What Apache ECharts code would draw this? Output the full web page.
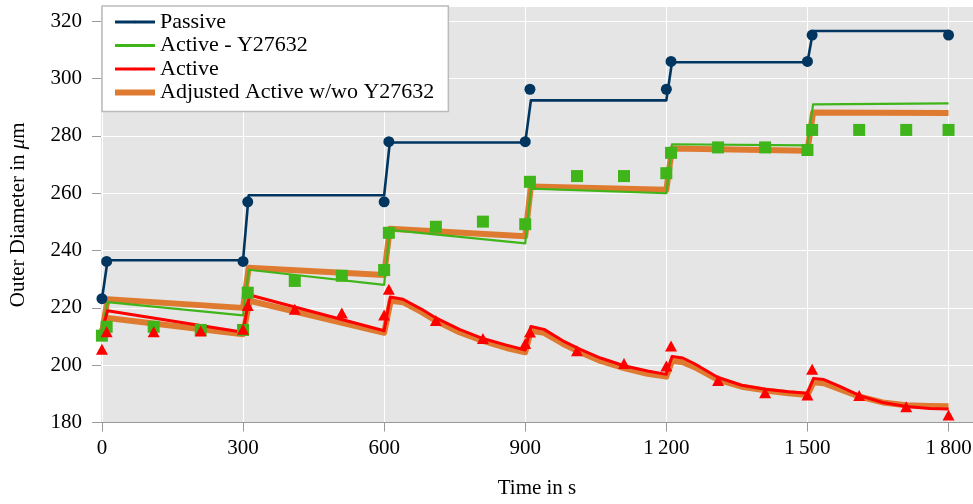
<!DOCTYPE html>
<html>
<head>
<meta charset="utf-8">
<script src="https://cdn.jsdelivr.net/npm/echarts@6/dist/echarts.min.js"></script>
<style>html,body{margin:0;padding:0;background:#fff}#main{width:973px;height:504px}</style>
</head>
<body>
<div id="main"></div>
<script>
// axis ticks
var xTicks = [0, 300, 600, 900, 1200, 1500, 1800];
var yTicks = [180, 200, 220, 240, 260, 280, 300, 320];

// Passive: model line + measured points
var passiveLineT = [0, 12, 300, 312, 600, 612, 900, 912, 1200, 1212, 1500, 1512, 1800];
var passiveLineV = [223, 236.6, 236.6, 259.3, 259.3, 277.7, 277.7, 292.4, 292.4, 305.7, 305.7, 316.6, 316.6];
var passiveT = [0, 10, 300, 310, 600, 610, 900, 910, 1200, 1210, 1500, 1510, 1800];
var passiveV = [223.2, 236.2, 236.2, 257, 257, 278, 278, 296.3, 296.3, 306, 306, 315.2, 315.2];

// Active - Y27632: model line + measured points
var greenLineT = [0, 12, 300, 312, 600, 612, 900, 912, 1200, 1212, 1500, 1512, 1800];
var greenLineV = [212, 222, 217.4, 233.3, 228, 247.2, 242.5, 261.6, 260, 277.1, 276.7, 291, 291.4];
var greenT = [0, 10, 110, 210, 300, 310, 410, 510, 600, 610, 710, 810, 900, 910, 1010, 1110, 1200, 1210, 1310, 1410, 1500, 1510, 1610, 1710, 1800];
var greenV = [210.3, 213.4, 213.4, 212.3, 212.3, 225.3, 229.4, 231.2, 233.2, 246.2, 248.3, 250.1, 249.2, 264, 266, 266, 267, 274.1, 276, 276, 275.1, 282.1, 282.1, 282.1, 282.1];

// Active: model line + measured points
var redLineT = [0, 12, 300, 314, 600, 613, 640, 680, 710, 760, 810, 860, 900, 912, 940, 980, 1017, 1060, 1110, 1160, 1200, 1212, 1235, 1260, 1309, 1360, 1410, 1460, 1500, 1513, 1535, 1570, 1611, 1660, 1710, 1760, 1800];
var redLineV = [212, 219, 211.5, 224.5, 212, 223.8, 223, 219.5, 216.5, 212.5, 209.3, 207, 205.3, 213.5, 212.5, 208.5, 205.5, 202.5, 199.8, 198, 196.8, 203, 202.5, 200.5, 195.8, 193, 191.6, 190.7, 190.2, 195.4, 195, 192.5, 189.4, 187, 185.6, 184.9, 184.7];
var redT = [0, 10, 110, 210, 300, 310, 410, 510, 600, 610, 710, 810, 900, 910, 1010, 1110, 1200, 1210, 1310, 1410, 1500, 1510, 1610, 1710, 1800];
var redV = [205.6, 211.7, 211.7, 211.9, 212.5, 220.8, 219.5, 218.2, 217.5, 226.5, 215.6, 209.3, 207.6, 211.6, 205, 200.6, 199.7, 206.7, 194.7, 190.4, 189.6, 198.6, 189.4, 185.5, 182.6];

// Adjusted Active w/wo Y27632 (two curves)
var orangeUpT = [0, 12, 300, 312, 600, 612, 900, 912, 1200, 1212, 1500, 1512, 1800];
var orangeUpV = [211, 223, 220, 234, 231.5, 247.6, 245, 262.4, 261.2, 275.6, 274.8, 288.2, 288];
var orangeLowT = [0, 12, 300, 314, 600, 614, 640, 680, 710, 760, 810, 860, 900, 912, 940, 980, 1017, 1060, 1110, 1160, 1200, 1212, 1235, 1260, 1309, 1360, 1410, 1460, 1500, 1513, 1535, 1570, 1611, 1660, 1710, 1760, 1800];
var orangeLowV = [212, 216.5, 210.8, 222.5, 211.3, 222.5, 222, 218.5, 215.5, 211.5, 208.5, 206, 204.5, 212, 211.3, 207.5, 204.5, 201.5, 199, 197, 196, 201.5, 201, 199.3, 195, 192.5, 191.2, 190.2, 189.6, 194, 193.7, 191.5, 189, 187, 186, 185.8, 185.7];

var serif = 'Liberation Serif';
var cBlue = '#003560';
var cGreen = '#3fb51a';
var cRed = '#ff0000';
var cOrange = '#df7b31';

var pair = function (xs, ys) {
    return xs.map(function (x, i) { return [x, ys[i]]; });
};
var thousands = function (v) {
    return v >= 1000 ? Math.floor(v / 1000) + '\u2009' + String(v % 1000).padStart(3, '0') : String(v);
};

var chart = echarts.init(document.getElementById('main'));

var lineSeries = function (name, data, color, width) {
    return {
        type: 'line', name: name, data: data,
        symbol: 'none', showSymbol: false, silent: true,
        lineStyle: { color: color, width: width, join: 'round' },
        itemStyle: { color: color },
        z: 2
    };
};
var dotSeries = function (name, data, color, symbol, size) {
    return {
        type: 'scatter', name: name, data: data,
        symbol: symbol, symbolSize: size, silent: true,
        itemStyle: { color: color, opacity: 1 },
        z: 5
    };
};

var option = {
    animation: false,
    grid: { left: 101, right: 0, top: 7, bottom: 81.5, show: true, backgroundColor: '#e5e5e5', borderWidth: 0, outerBoundsMode: 'none' },
    xAxis: {
        type: 'value', min: -2, max: 1852,
        axisLine: { show: true, onZero: false, lineStyle: { color: '#999', width: 1 } },
        axisTick: { show: true, customValues: xTicks, length: 9, lineStyle: { color: '#999' } },
        axisLabel: { customValues: xTicks, formatter: thousands, margin: 15, fontFamily: serif, fontSize: 21, color: '#000' },
        splitLine: { show: true, lineStyle: { color: '#fff', width: 1 } },
        name: 'Time in s', nameLocation: 'middle', nameGap: 55,
        nameTextStyle: { fontFamily: serif, fontSize: 21, color: '#000' }
    },
    yAxis: {
        type: 'value', min: 180, max: 325,
        axisLine: { show: false, onZero: false },
        axisTick: { show: true, customValues: yTicks, length: 9, lineStyle: { color: '#999' } },
        axisLabel: { customValues: yTicks, margin: 19, fontFamily: serif, fontSize: 21, color: '#000' },
        splitLine: { show: true, lineStyle: { color: '#fff', width: 1 } },
        name: 'Outer Diameter in {i|μ}m', nameLocation: 'middle', nameGap: 72,
        nameTextStyle: { fontFamily: serif, fontSize: 21, color: '#000', rich: { i: { fontFamily: serif, fontSize: 21, fontStyle: 'italic', color: '#000' } } }
    },
    legend: {
        orient: 'vertical', left: 102, top: 6,
        backgroundColor: '#fff', borderColor: '#bbb', borderWidth: 1.5,
        padding: [5, 14, 8, 10],
        itemWidth: 40, itemHeight: 3, itemGap: 1.5,
        textStyle: { fontFamily: serif, fontSize: 22, color: '#000', lineHeight: 21.5 },
        data: [
            { name: 'Passive', lineStyle: { width: 3 } },
            { name: 'Active - Y27632', lineStyle: { width: 3 } },
            { name: 'Active', lineStyle: { width: 3 } },
            { name: 'Adjusted Active w/wo Y27632', lineStyle: { width: 6 } }
        ]
    },
    series: [
        lineSeries('Adjusted Active w/wo Y27632', pair(orangeUpT, orangeUpV), cOrange, 6),
        lineSeries('Adjusted Active w/wo Y27632', pair(orangeLowT, orangeLowV), cOrange, 6),
        lineSeries('Active - Y27632', pair(greenLineT, greenLineV), cGreen, 2.2),
        lineSeries('Active', pair(redLineT, redLineV), cRed, 3),
        lineSeries('Passive', pair(passiveLineT, passiveLineV), cBlue, 2.6),
        dotSeries('Active - Y27632 data', pair(greenT, greenV), cGreen, 'rect', 12),
        dotSeries('Active data', pair(redT, redV), cRed, 'triangle', [12, 11]),
        dotSeries('Passive data', pair(passiveT, passiveV), cBlue, 'circle', 11)
    ]
};
chart.setOption(option);
</script>
</body>
</html>
